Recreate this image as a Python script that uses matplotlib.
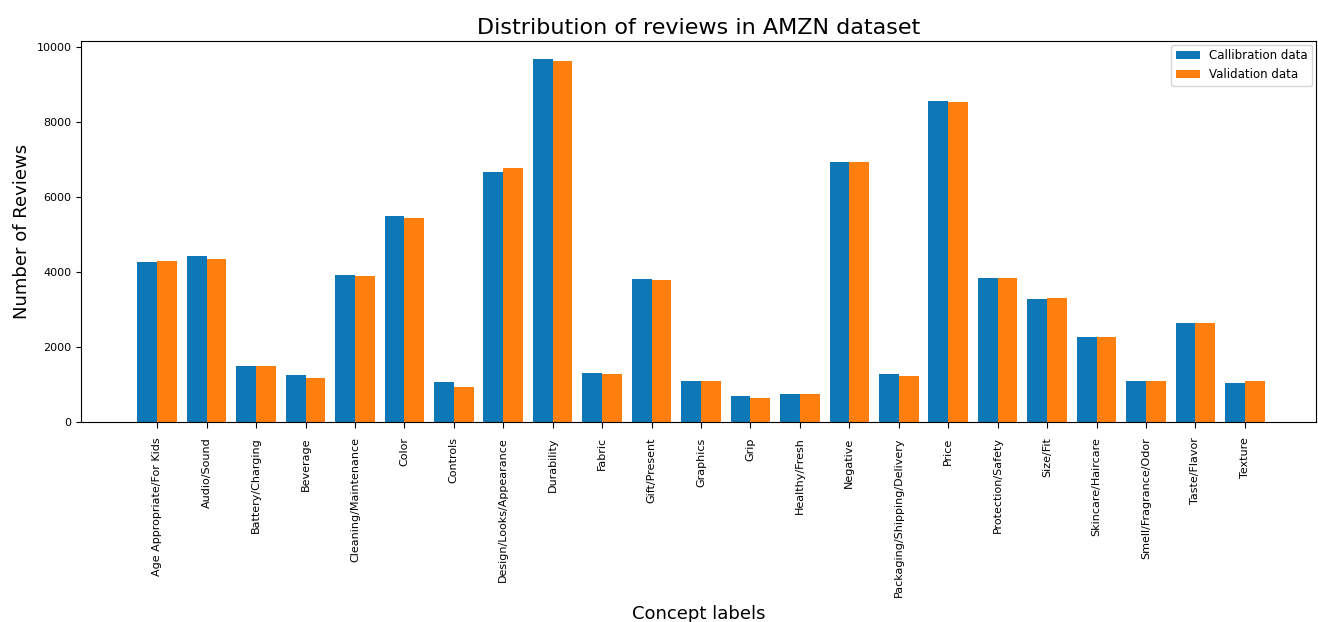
import numpy as np
import matplotlib
matplotlib.use("Agg")
import matplotlib.pyplot as plt

labels = ["Age Appropriate/For Kids", "Audio/Sound", "Battery/Charging", "Beverage",
          "Cleaning/Maintenance", "Color", "Controls", "Design/Looks/Appearance",
          "Durability", "Fabric", "Gift/Present", "Graphics", "Grip", "Healthy/Fresh",
          "Negative", "Packaging/Shipping/Delivery", "Price", "Protection/Safety",
          "Size/Fit", "Skincare/Haircare", "Smell/Fragrance/Odor", "Taste/Flavor", "Texture"]

calib = [4270, 4425, 1496, 1248, 3929, 5478, 1071, 6664, 9673, 1319, 3805, 1097, 690,
         752, 6938, 1283, 8558, 3832, 3274, 2274, 1097, 2646, 1027]
valid = [4300, 4336, 1496, 1186, 3894, 5442, 938, 6761, 9619, 1283, 3779, 1097, 628,
         752, 6938, 1221, 8531, 3832, 3301, 2274, 1097, 2646, 1097]

x = np.arange(len(labels))
w = 0.4

fig = plt.figure(figsize=(13.18, 6.22), dpi=100)
ax = fig.add_axes([0.0615, 0.3215, 0.937, 0.6125])

ax.bar(x - w/2, calib, w, color="#0e78b6", label="Callibration data")
ax.bar(x + w/2, valid, w, color="#ff7f0e", label="Validation data")

ax.set_xticks(x)
ax.set_xticklabels(labels, rotation=90, fontsize=8)
ax.tick_params(axis="x", length=4, pad=7)
ax.tick_params(axis="y", labelsize=8)
ax.set_xlim(-1.54, 23.44)
ax.set_ylim(0, 10150)
ax.set_yticks([0, 2000, 4000, 6000, 8000, 10000])

ax.set_title("Distribution of reviews in AMZN dataset", fontsize=16, pad=5)
ax.set_ylabel("Number of Reviews", fontsize=13)
ax.set_xlabel("Concept labels", fontsize=13, labelpad=6)
ax.legend(fontsize=8.5, loc="upper right", borderaxespad=0.3)

fig.savefig("out.png", dpi=100)
